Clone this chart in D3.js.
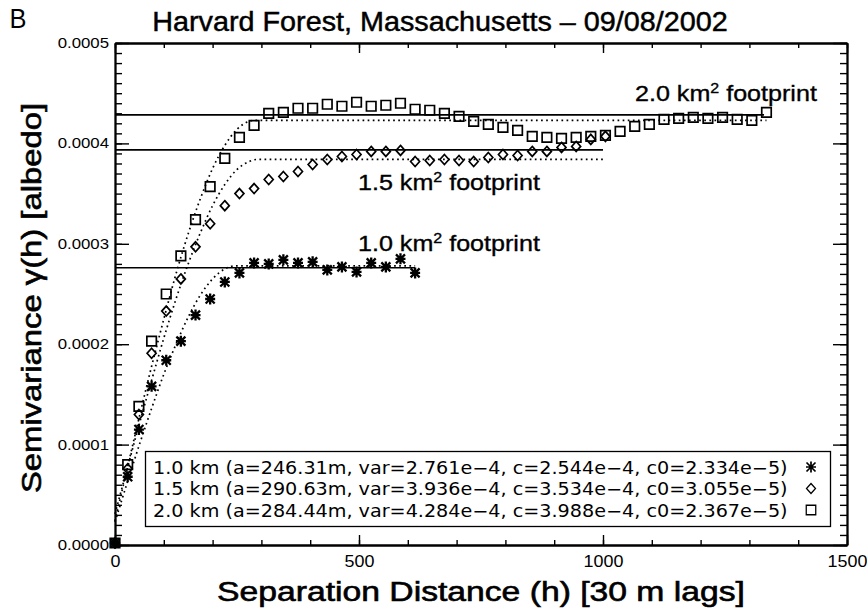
<!DOCTYPE html>
<html lang="en">
<head>
<meta charset="UTF-8">
<title>Harvard Forest, Massachusetts - 09/08/2002</title>
<script src="https://d3js.org/d3.v7.min.js"></script>
<style>
  body { margin: 0; background: #fff; }
  svg { display: block; font-family: "Liberation Sans", Arial, sans-serif; }
  .axis path, .axis line { stroke: #000; }
  .axis path.domain { stroke-width: 1.8; }
  .axis .tick line { stroke-width: 1.4; }
  .axis text { fill: #000; }
  .heavy { stroke: #000; stroke-width: 0.6; }
</style>
</head>
<body>
<svg id="chart" width="867" height="609"></svg>
<script>
// lag bins (h) shared by the three footprints
const lags = [0, 26, 49, 75, 105, 135, 165, 195, 225, 255, 285, 315, 345, 375, 405, 435,
  465, 495, 525, 555, 585, 615, 645, 675, 705, 735, 765, 795, 825, 855, 885, 915, 945,
  975, 1005, 1035, 1065, 1095, 1125, 1155, 1185, 1215, 1245, 1275, 1305, 1335];

// semivariance, in units of 1e-4 albedo
const gamma10 = [0.02, 0.68, 1.15, 1.58, 1.84, 2.03, 2.29, 2.45, 2.62, 2.71, 2.81, 2.80,
  2.84, 2.81, 2.82, 2.74, 2.77, 2.72, 2.81, 2.77, 2.85, 2.71];
const gamma15 = [0.02, 0.76, 1.30, 1.91, 2.33, 2.65, 2.97, 3.20, 3.38, 3.50, 3.55, 3.64,
  3.67, 3.72, 3.79, 3.84, 3.87, 3.89, 3.92, 3.92, 3.93, 3.82, 3.83, 3.84, 3.83, 3.82,
  3.86, 3.89, 3.88, 3.92, 3.92, 3.96, 3.97, 4.04, 4.07];
const gamma20 = [0.02, 0.80, 1.38, 2.03, 2.50, 2.88, 3.24, 3.57, 3.85, 4.06, 4.18, 4.30,
  4.31, 4.35, 4.35, 4.39, 4.37, 4.41, 4.37, 4.38, 4.40, 4.34, 4.33, 4.30, 4.27, 4.22,
  4.19, 4.16, 4.13, 4.07, 4.06, 4.05, 4.06, 4.07, 4.08, 4.12, 4.17, 4.19, 4.24, 4.25,
  4.26, 4.25, 4.26, 4.24, 4.23, 4.31];

// fitted model curves (dotted), [h, gamma x1e-4]
const fit10 = [[0, 0.23], [25, 0.62], [50, 1.00], [75, 1.36], [100, 1.70], [125, 2.00],
  [150, 2.27], [175, 2.49], [200, 2.65], [225, 2.75], [246, 2.78], [615, 2.78]];
const fit15 = [[0, 0.31], [25, 0.76], [50, 1.21], [75, 1.64], [100, 2.06], [125, 2.45],
  [150, 2.80], [175, 3.11], [200, 3.38], [225, 3.59], [250, 3.74], [275, 3.82],
  [291, 3.84], [1000, 3.84]];
const fit20 = [[0, 0.24], [25, 0.76], [50, 1.28], [75, 1.78], [100, 2.25], [125, 2.70],
  [150, 3.10], [175, 3.45], [200, 3.75], [225, 3.98], [250, 4.14], [275, 4.22],
  [284, 4.23], [1335, 4.23]];

// sample variance (solid lines) and how far each line runs
const sillVar = [2.761, 3.936, 4.284];
const sillEnd = [615, 1000, 1330];

const footprints = ["1.0", "1.5", "2.0"];
const legendLabels = [
  "1.0 km (a=246.31m, var=2.761e\u22124, c=2.544e\u22124, c0=2.334e\u22125)",
  "1.5 km (a=290.63m, var=3.936e\u22124, c=3.534e\u22124, c0=3.055e\u22125)",
  "2.0 km (a=284.44m, var=4.284e\u22124, c=3.988e\u22124, c0=2.367e\u22125)"
];
const xTicks = [0, 500, 1000, 1500];
const yTicks = [0, 0.0001, 0.0002, 0.0003, 0.0004, 0.0005];

const W = 867, H = 609;
const margin = { top: 43, right: 20, bottom: 64, left: 115 };
const svg = d3.select("#chart");

const x = d3.scaleLinear().domain([0, 1500]).range([margin.left, W - margin.right]);
const y = d3.scaleLinear().domain([0, 0.0005]).range([H - margin.bottom, margin.top]);
const E4 = 1e-4;

// stretch a horizontal label to a given width (the figure's type is wide)
function fitWidth(sel, w) {
  sel.each(function () {
    const bw = this.getComputedTextLength();
    const t = d3.select(this).attr("transform") || "";
    d3.select(this).attr("transform", t + ` scale(${w / bw},1)`);
  });
}

// ---- axes: inward ticks on all four sides, 10 minor on y, 5 minor on x
const yBot = H - margin.bottom, yTop = margin.top;
const xLeft = margin.left, xRight = W - margin.right;

function addAxis(axis, tx, ty) {
  return svg.append("g").attr("class", "axis")
    .attr("transform", `translate(${tx},${ty})`).call(axis);
}
addAxis(d3.axisBottom(x).ticks(15).tickSize(-5).tickSizeOuter(0).tickFormat(""), 0, yBot);
addAxis(d3.axisTop(x).ticks(15).tickSize(-5).tickSizeOuter(0).tickFormat(""), 0, yTop);
addAxis(d3.axisLeft(y).ticks(50).tickSize(-7).tickSizeOuter(0).tickFormat(""), xLeft, 0);
addAxis(d3.axisRight(y).ticks(50).tickSize(-7).tickSizeOuter(0).tickFormat(""), xRight, 0);
addAxis(d3.axisTop(x).tickValues(xTicks).tickSize(-10).tickSizeOuter(0).tickFormat(""), 0, yTop);
addAxis(d3.axisRight(y).tickValues(yTicks).tickSize(-14).tickSizeOuter(0).tickFormat(""), xRight, 0);

const xAx = addAxis(d3.axisBottom(x).tickValues(xTicks).tickSize(-10).tickSizeOuter(0)
  .tickPadding(10).tickFormat(d3.format("d")), 0, yBot);
xAx.selectAll("text").attr("font-size", 16).attr("dy", "0.72em")
  .attr("transform", "scale(1.12,1)");

const yAx = addAxis(d3.axisLeft(y).tickValues(yTicks).tickSize(-14).tickSizeOuter(0)
  .tickPadding(5).tickFormat(d3.format(".4f")), xLeft, 0);
yAx.selectAll("text").attr("font-size", 14).attr("transform", "scale(1.2,1)");

// ---- titles
svg.append("text").attr("x", 10).attr("y", 28).attr("font-size", 27).text("B")
  .call(fitWidth, 17);

svg.append("g").attr("transform", "translate(440,31)")
  .append("text").attr("class", "heavy").attr("text-anchor", "middle")
  .attr("font-size", 27).style("stroke-width", 0.45)
  .text("Harvard Forest, Massachusetts \u2013 09/08/2002")
  .call(fitWidth, 576);

svg.append("g").attr("transform", "translate(481,601)")
  .append("text").attr("class", "heavy").attr("text-anchor", "middle")
  .attr("font-size", 27)
  .text("Separation Distance (h) [30 m lags]")
  .call(fitWidth, 528);

svg.append("g").attr("transform", "translate(41,298) rotate(-90)")
  .append("text").attr("class", "heavy").attr("text-anchor", "middle")
  .attr("font-size", 27)
  .attr("textLength", 390).attr("lengthAdjust", "spacingAndGlyphs")
  .text("Semivariance \u03B3(h) [albedo]");

// ---- sill lines and fitted curves
const plot = svg.append("g");
const line = d3.line().x(d => x(d[0])).y(d => y(d[1] * E4)).curve(d3.curveMonotoneX);

sillVar.forEach((v, i) => {
  plot.append("line")
    .attr("x1", x(0)).attr("x2", x(sillEnd[i]))
    .attr("y1", y(v * E4)).attr("y2", y(v * E4))
    .attr("stroke", "#000").attr("stroke-width", 1.6);
});

[fit10, fit15, fit20].forEach(f => {
  plot.append("path").datum(f).attr("d", line)
    .attr("fill", "none").attr("stroke", "#000").attr("stroke-width", 1.7)
    .attr("stroke-dasharray", "1.7 3.4");
});

// ---- markers
const symPath = {
  star: "M-4.5,-4.5L4.5,4.5M-4.5,4.5L4.5,-4.5M0,-5.5L0,5.5M-5,0L5,0",
  diamond: "M0,-5L4.5,0L0,5L-4.5,0Z",
  square: "M-4.75,-4.75H4.75V4.75H-4.75Z"
};
const series = [
  { vals: gamma10, sym: "star", sw: 2.3 },
  { vals: gamma15, sym: "diamond", sw: 1.7 },
  { vals: gamma20, sym: "square", sw: 1.7 }
];

series.forEach(s => {
  const pts = s.vals.map((v, i) => [lags[i], v]);
  plot.append("g").selectAll("path").data(pts).join("path")
    .attr("transform", d => `translate(${x(d[0])},${y(d[1] * E4)})`)
    .attr("d", symPath[s.sym])
    .attr("fill", "none").attr("stroke", "#000").attr("stroke-width", s.sw);
});

// ---- footprint labels
const fpPos = [[358, 251], [358, 190], [635, 101]];
footprints.forEach((f, i) => {
  const t = svg.append("g").attr("transform", `translate(${fpPos[i][0]},${fpPos[i][1]})`)
    .append("text").attr("class", "heavy").style("stroke-width", 0.35).attr("font-size", 22);
  t.append("tspan").text(`${f} km`);
  t.append("tspan").attr("font-size", 14).attr("dy", -8).text("2");
  t.append("tspan").attr("dy", 8).text(" footprint");
  t.call(fitWidth, 182);
});

// ---- legend box
const lg = svg.append("g");
lg.append("rect").attr("x", 145.5).attr("y", 451.5).attr("width", 685).attr("height", 75)
  .attr("fill", "#fff").attr("stroke", "#000").attr("stroke-width", 1.3);

legendLabels.forEach((txt, i) => {
  const cy = 467 + i * 21.5;
  lg.append("g").attr("transform", `translate(153,${cy + 6.5})`)
    .append("text").attr("font-size", 17).attr("font-family", "'DejaVu Sans', sans-serif")
    .text(txt).call(fitWidth, 635);
  lg.append("path").attr("transform", `translate(811,${cy})`)
    .attr("d", symPath[series[i].sym])
    .attr("fill", "none").attr("stroke", "#000").attr("stroke-width", series[i].sw * 0.75);
});
</script>
</body>
</html>
